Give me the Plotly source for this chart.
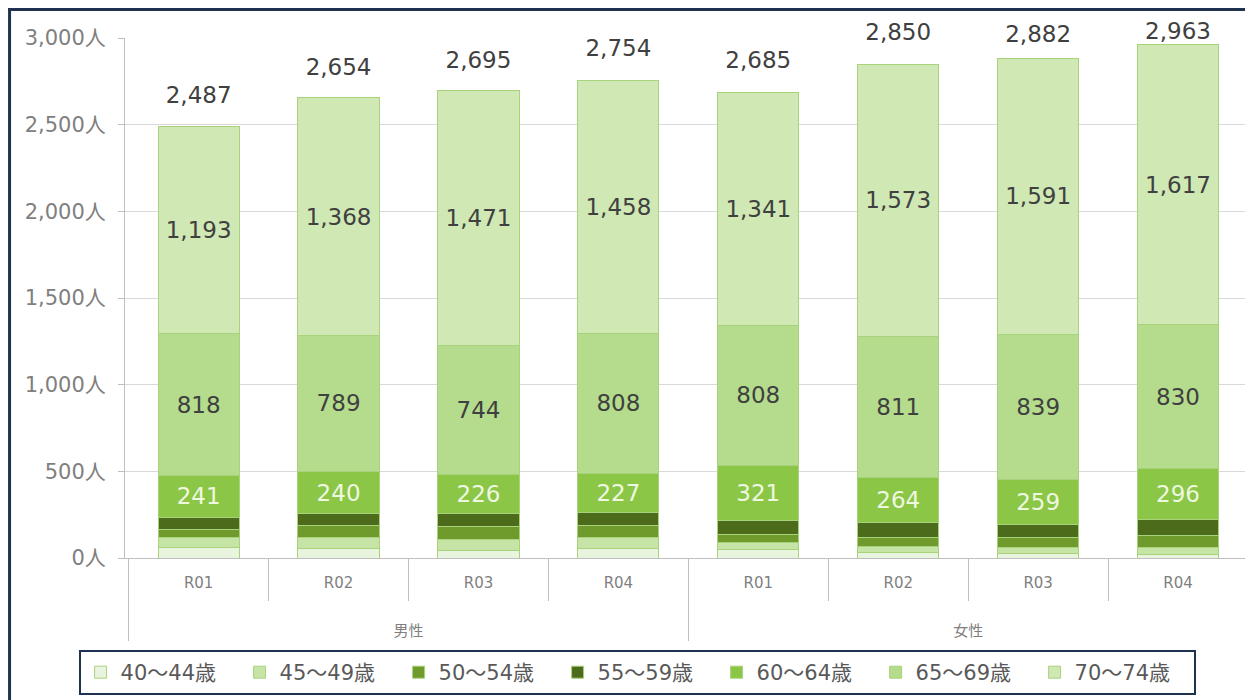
import plotly.graph_objects as go

# categories
sex = ["男性"] * 4 + ["女性"] * 4
year = ["R01", "R02", "R03", "R04"] * 2

# series values (people), bottom to top
age_40_44 = [62, 57, 46, 55, 50, 32, 27, 23]
age_45_49 = [55, 60, 60, 64, 37, 33, 33, 38]
age_50_54 = [50, 72, 74, 70, 50, 52, 60, 70]
age_55_59 = [68, 68, 74, 72, 78, 85, 73, 89]
age_60_64 = [241, 240, 226, 227, 321, 264, 259, 296]
age_65_69 = [818, 789, 744, 808, 808, 811, 839, 830]
age_70_74 = [1193, 1368, 1471, 1458, 1341, 1573, 1591, 1617]
totals = [2487, 2654, 2695, 2754, 2685, 2850, 2882, 2963]

series = [
    ("40～44歳", age_40_44, "#e9f4de", False, "#404040"),
    ("45～49歳", age_45_49, "#c6e4a6", False, "#404040"),
    ("50～54歳", age_50_54, "#6f9b2c", False, "#404040"),
    ("55～59歳", age_55_59, "#4c6b1b", False, "#404040"),
    ("60～64歳", age_60_64, "#8cc646", True, "#eef8e0"),
    ("65～69歳", age_65_69, "#b4dc8c", True, "#404040"),
    ("70～74歳", age_70_74, "#cfe8b4", True, "#404040"),
]

num_font = "DejaVu Sans, Noto Sans CJK JP"

# blank lines under the inner labels push the group row further down
x = [sex, [f"{y}<br>\u00a0<br>\u00a0" for y in year]]
fig = go.Figure()
for name, vals, color, show_text, tcolor in series:
    fig.add_trace(go.Bar(
        x=x, y=vals, name=name,
        marker=dict(color=color, line=dict(color="#a8d27c", width=1)),
        text=[f"{v:,}" for v in vals] if show_text else None,
        texttemplate="%{text}" if show_text else None,
        textposition="inside" if show_text else "none",
        insidetextanchor="middle",
        textfont=dict(family=num_font, size=23, color=tcolor),
        hoverinfo="name+y",
    ))

# totals above the stacks (labels near the top edge sit closer, like Excel)
fig.add_trace(go.Scatter(
    x=x, y=totals, mode="markers+text", showlegend=False,
    marker=dict(size=[28, 26, 26, 28, 28, 28, 16, 0], opacity=0),
    text=[f"{t:,}" for t in totals], textposition="top center",
    textfont=dict(family=num_font, size=23, color="#404040"),
    cliponaxis=False, hoverinfo="skip",
))

fig.update_layout(
    width=1253, height=700,
    margin=dict(l=117, r=13, t=30, b=150, autoexpand=False),
    barmode="stack", bargap=0.42,
    plot_bgcolor="white", paper_bgcolor="white",
    font=dict(family=num_font, color="#7f7f7f"),
    showlegend=True,
    legend=dict(
        orientation="h", traceorder="normal",
        x=0.456, xanchor="center", y=-0.177, yanchor="top",
        bordercolor="#1f3350", borderwidth=2,
        font=dict(size=21, color="#595959"),
        entrywidth=114, itemwidth=30,
    ),
)
fig.update_yaxes(
    range=[0, 3000], dtick=500, tickformat=",", ticksuffix="人",
    showgrid=True, gridcolor="#d9d9d9",
    showline=True, linecolor="#bfbfbf",
    ticks="outside", ticklen=6, tickcolor="#bfbfbf",
    ticklabelstandoff=8,
    tickfont=dict(size=21, color="#7f7f7f"),
)
fig.update_xaxes(
    type="multicategory",
    showline=True, linecolor="#bfbfbf",
    ticks="outside", ticklen=42, tickcolor="#bfbfbf",
    ticklabelstandoff=11,
    showdividers=True, dividercolor="#bfbfbf", dividerwidth=1,
    tickfont=dict(size=15, color="#7f7f7f"),
)

# dark frame around the chart
fig.add_shape(type="line", xref="paper", yref="paper",
              x0=-0.1028, x1=-0.1028, y0=1.06, y1=-0.4,
              line=dict(color="#1f3350", width=3))
fig.add_shape(type="line", xref="paper", yref="paper",
              x0=-0.11, x1=1.1, y0=1.0548, y1=1.0548,
              line=dict(color="#1f3350", width=3))

fig.write_html("out.html")
